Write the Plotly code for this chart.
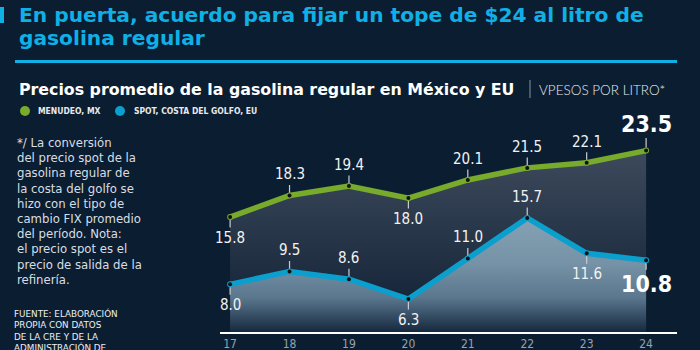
import plotly.graph_objects as go

# ---- data ----
years = ["17", "18", "19", "20", "21", "22", "23", "24"]
menudeo_mx = [15.8, 18.3, 19.4, 18.0, 20.1, 21.5, 22.1, 23.5]
spot_eu = [8.0, 9.5, 8.6, 6.3, 11.0, 15.7, 11.6, 10.8]
menudeo_pos = ["below", "above", "above", "below", "above", "above", "above", "above"]
spot_pos = ["below", "above", "above", "below", "above", "above", "below", "below"]

title_lines = ["En puerta, acuerdo para fijar un tope de $24 al litro de", "gasolina regular"]
subtitle = "Precios promedio de la gasolina regular en México y EU"
units = "VPESOS POR LITRO*"
legend_names = ["MENUDEO, MX", "SPOT, COSTA DEL GOLFO, EU"]
note_lines = ["*/ La conversión", "del precio spot de la", "gasolina regular de",
              "la costa del golfo se", "hizo con el tipo de", "cambio FIX promedio",
              "del período. Nota:", "el precio spot es el", "precio de salida de la",
              "refinería."]
source_lines = ["FUENTE: ELABORACIÓN", "PROPIA CON DATOS", "DE LA CRE Y DE LA",
                "ADMINISTRACIÓN DE"]

# ---- style ----
BG = "#0b1e31"
CYAN = "#0fb0e6"
GREEN = "#78aa2b"
BLUE = "#0a9fcd"
COND = "'DejaVu Sans Condensed', 'Liberation Sans Narrow', 'DejaVu Sans', sans-serif"
GEO = "'DejaVu Sans', sans-serif"

W, H = 700, 350
L, R, T, B = 220, 677, 130, 332


def px(x):
    return (x - L) / (R - L)


def py(y):
    return (B - y) / (B - T)


fig = go.Figure()

fig.add_trace(go.Scatter(
    x=years, y=menudeo_mx, mode="lines+markers", fill="tozeroy",
    line=dict(color=GREEN, width=5.5), marker=dict(size=6, color=GREEN),
    fillgradient=dict(type="vertical", start=2.5, stop=23.5,
                      colorscale=[[0, "#0e1e32"], [1, "#3d4a5c"]]),
    hoverinfo="skip", showlegend=False))
fig.add_trace(go.Scatter(
    x=years, y=spot_eu, mode="lines+markers", fill="tozeroy",
    line=dict(color=BLUE, width=5.5), marker=dict(size=6, color=BLUE),
    fillgradient=dict(type="vertical", start=2.5, stop=15.7,
                      colorscale=[[0, "#16293f"], [0.3, "#5a778e"],
                                  [0.6, "#7592a6"], [1, "#86a1b4"]]),
    hoverinfo="skip", showlegend=False))
for vals in (menudeo_mx, spot_eu):
    fig.add_trace(go.Scatter(x=years, y=vals, mode="markers",
                             marker=dict(size=4, color="#111111"),
                             hoverinfo="skip", showlegend=False))

annotations = []
for vals, pos in ((menudeo_mx, menudeo_pos), (spot_eu, spot_pos)):
    n = len(vals)
    for i, (v, p) in enumerate(zip(vals, pos)):
        last = i == n - 1
        if last:
            font = dict(family=COND, size=23, color="white", weight=700)
            ay = -27 if p == "above" else 24
        else:
            font = dict(family=COND, size=15, color="#f2f2f2")
            ay = -21 if p == "above" else 21
        annotations.append(dict(
            x=i, y=v, xref="x", yref="y", text=f"{v:.1f}",
            showarrow=True, arrowhead=0, arrowwidth=1.2, arrowcolor="#c8ccd2",
            ax=0, ay=ay, standoff=3, font=font))

# title
annotations.append(dict(xref="paper", yref="paper", x=px(17), y=py(15), xanchor="left",
                        yanchor="middle", text=title_lines[0], showarrow=False,
                        font=dict(family=GEO, size=20.2, color=CYAN, weight=700)))
annotations.append(dict(xref="paper", yref="paper", x=px(17), y=py(38), xanchor="left",
                        yanchor="middle", text=title_lines[1], showarrow=False,
                        font=dict(family=GEO, size=20.2, color=CYAN, weight=700)))
# subtitle
annotations.append(dict(xref="paper", yref="paper", x=px(17), y=py(89), xanchor="left",
                        yanchor="middle", text=subtitle, showarrow=False,
                        font=dict(family=GEO, size=15.8, color="white", weight=700)))
annotations.append(dict(xref="paper", yref="paper", x=px(537), y=py(90), xanchor="left",
                        yanchor="middle", text=units, showarrow=False,
                        font=dict(family="Lato, sans-serif", size=13.5, color="#e6e9ee",
                                  weight=300)))
# legend
for name, tx in zip(legend_names, (36, 132)):
    annotations.append(dict(xref="paper", yref="paper", x=px(tx), y=py(111), xanchor="left",
                            yanchor="middle", text=name, showarrow=False,
                            font=dict(family=COND, size=8.5, color="#e8eaee", weight=700)))
# notes (one block, 1.3 line spacing)
annotations.append(dict(xref="paper", yref="paper", x=px(15), y=py(134), xanchor="left",
                        yanchor="top", align="left", text="<br>".join(note_lines),
                        showarrow=False,
                        font=dict(family=GEO, size=11.7, color="#d9dde3")))
annotations.append(dict(xref="paper", yref="paper", x=px(12), y=py(305.5), xanchor="left",
                        yanchor="top", align="left", text="<br>".join(source_lines),
                        showarrow=False,
                        font=dict(family=GEO, size=8.8, color="#eceef2")))

shapes = [
    dict(type="rect", xref="paper", yref="paper", x0=px(0), x1=px(4), y0=py(7), y1=py(23),
         fillcolor=CYAN, line_width=0),
    dict(type="line", xref="paper", yref="paper", x0=px(15), x1=px(677), y0=py(61.5),
         y1=py(61.5), line=dict(color=CYAN, width=3)),
    dict(type="line", xref="paper", yref="paper", x0=px(530), x1=px(530), y0=py(80),
         y1=py(98), line=dict(color="#8a94a0", width=1)),
    dict(type="circle", xref="paper", yref="paper", x0=px(20), x1=px(30), y0=py(106),
         y1=py(116), fillcolor=GREEN, line_width=0),
    dict(type="circle", xref="paper", yref="paper", x0=px(115), x1=px(125), y0=py(106),
         y1=py(116), fillcolor=BLUE, line_width=0),
]

fig.update_layout(
    width=W, height=H, paper_bgcolor=BG, plot_bgcolor=BG,
    margin=dict(l=L, r=W - R, t=T, b=H - B, pad=0),
    annotations=annotations, shapes=shapes,
    xaxis=dict(type="category", range=[-0.17, 7.52], showgrid=False, zeroline=False,
               showline=True, linecolor="white", linewidth=2, ticks="", automargin=False,
               tickfont=dict(family=COND, size=12, color="#98a1ac")),
    yaxis=dict(range=[2.48, 25.89], showgrid=False, zeroline=False, showticklabels=False,
               showline=False, automargin=False),
)

fig.write_html("out.html")
